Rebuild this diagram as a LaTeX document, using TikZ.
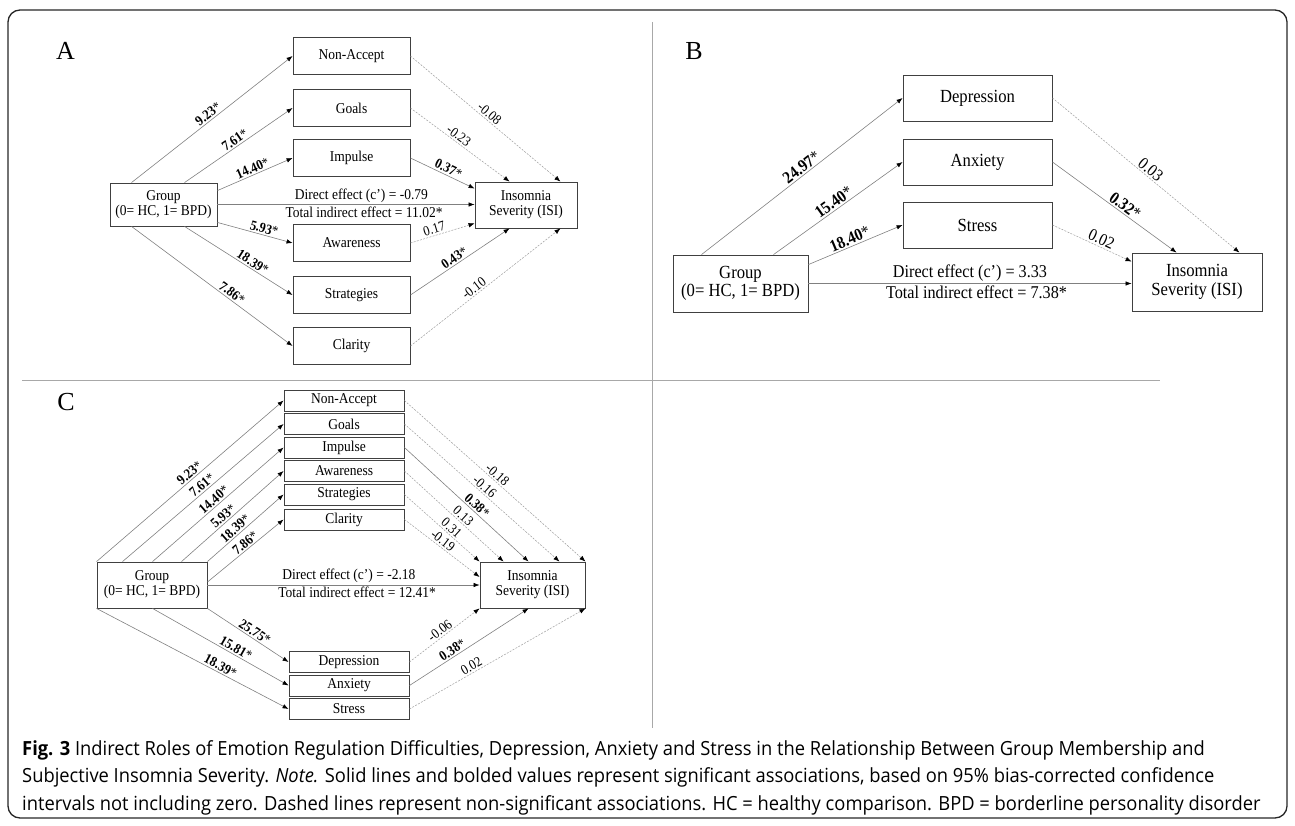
\documentclass[tikz,border=0pt]{standalone}
\usepackage{fontspec}
\setmainfont{Liberation Serif}
\newfontfamily\figserif[FakeStretch=0.9]{Liberation Serif}
\newfontfamily\capsans[FakeStretch=0.94]{Open Sans}
\usetikzlibrary{arrows.meta,positioning,calc}

\definecolor{framegray}{HTML}{262626}
\definecolor{rulegray}{HTML}{A8A8A8}
\definecolor{boxgray}{HTML}{404040}
\definecolor{pathgray}{HTML}{808080}
\definecolor{dashgray}{HTML}{9C9C9C}

\tikzset{
  vbox/.style={draw=boxgray, fill=white, line width=0.9pt, inner sep=0pt, align=center,
    font=\figserif\fontsize{#1}{#1}\selectfont},
  vbox/.default=15,
  sig/.style={draw=pathgray, line width=0.6pt, -{Latex[length=6pt,width=4.5pt,color=black]}},
  nsig/.style={sig, draw=dashgray, line width=0.5pt, dash pattern=on 2pt off 1.3pt},
  est/.style={sloped, above, inner sep=1.5pt, font=\figserif\fontsize{#1}{#1}\selectfont},
  est/.default=14,
  effect/.style={inner sep=2pt, font=\figserif\fontsize{#1}{#1}\selectfont},
  effect/.default=15,
  panel/.style={font=\fontsize{26}{26}\selectfont}
}

\begin{document}
\begin{tikzpicture}[x=1pt, y=-1pt,
  medA/.style={vbox, minimum width=117pt, minimum height=37pt},
  medB/.style={vbox=18.5, minimum width=149pt, minimum height=46pt},
  medC/.style={vbox, minimum width=120pt, minimum height=21pt}]
\useasboundingbox (0,0) rectangle (1295,826);
\draw[framegray, line width=1.3pt, rounded corners=12pt] (8,10) rectangle (1287,818);
\draw[rulegray, line width=0.6pt] (652,22) -- (652,728);
\draw[rulegray, line width=0.6pt] (22,380) -- (1160,380);

% panel A
\node[panel] (labA) at (65.5,50.5) {A};
\node[vbox, minimum width=107pt, minimum height=43pt] (grpA) at (163.5,204.5) {Group\\(0= HC, 1= BPD)};
\node[vbox, minimum width=102pt, minimum height=46pt] (isiA) at (526,205) {Insomnia\\Severity (ISI)};
\node[medA] (nacA) at (351.5,56) {Non-Accept};
\node[medA, below of=nacA, node distance=52pt] (golA) {Goals};
\node[medA, below of=golA, node distance=50pt] (impA) {Impulse};
\node[medA, below of=impA, node distance=85pt] (awaA) {Awareness};
\node[medA, below of=awaA, node distance=52pt] (strA) {Strategies};
\node[medA, below of=strA, node distance=51pt] (claA) {Clarity};

\draw[sig] ($(grpA.north west)+(22,0)$) -- (nacA.west) node[est, pos=.5] {\textbf{9.23}*};
\draw[sig] ($(grpA.north west)+(75,0)$) -- (golA.west) node[est, pos=.5] {\textbf{7.61}*};
\draw[sig] ($(grpA.north east)+(0,8)$) -- (impA.west) node[est, pos=.5] {\textbf{14.40}*};
\draw[sig] (grpA.east) -- (grpA.east -| isiA.west)
  node[effect, above, pos=.56] {Direct effect (c’) = -0.79}
  node[effect, below, pos=.57] {Total indirect effect = 11.02*};
\draw[sig] ($(grpA.south east)+(0,-4)$) -- (awaA.west) node[est, pos=.6] {\textbf{5.93}*};
\draw[sig] ($(grpA.south west)+(75,0)$) -- (strA.west) node[est, pos=.6] {\textbf{18.39}*};
\draw[sig] ($(grpA.south west)+(22,0)$) -- (claA.west) node[est, pos=.6] {\textbf{7.86}*};
\draw[nsig] (nacA.east) -- ($(isiA.north east)+(-17,0)$) node[est, pos=.5] {-0.08};
\draw[nsig] (golA.east) -- ($(isiA.north west)+(35,0)$) node[est, pos=.45] {-0.23};
\draw[sig] (impA.east) -- ($(isiA.north west)+(0,7)$) node[est, pos=.55] {\textbf{0.37}*};
\draw[nsig] (awaA.east) -- ($(isiA.south west)+(0,-5)$) node[est, pos=.4] {0.17};
\draw[sig] (strA.east) -- ($(isiA.south west)+(35,0)$) node[est, pos=.48] {\textbf{0.43}*};
\draw[nsig] (claA.east) -- ($(isiA.south east)+(-17,0)$) node[est, pos=.45] {-0.10};

% panel B
\node[panel] (labB) at (694,51) {B};
\node[vbox=18.5, minimum width=135pt, minimum height=57pt] (grpB) at (740.5,283.5) {Group\\(0= HC, 1= BPD)};
\node[vbox=18.5, minimum width=130pt, minimum height=58pt] (isiB) at (1197,282) {Insomnia\\Severity (ISI)};
\node[medB] (depB) at (977.5,98) {Depression};
\node[medB, below of=depB, node distance=64pt] (anxB) {Anxiety};
\node[medB, below of=anxB, node distance=63pt] (strsB) {Stress};

\draw[sig] ($(grpB.north west)+(29,0)$) -- (depB.west) node[est=17, pos=.52] {\textbf{24.97}*};
\draw[sig] ($(grpB.north west)+(101,0)$) -- (anxB.west) node[est=17, pos=.5] {\textbf{15.40}*};
\draw[sig] ($(grpB.north east)+(0,10)$) -- (strsB.west) node[est=17, pos=.47] {\textbf{18.40}*};
\draw[sig] (grpB.east) -- (grpB.east -| isiB.west)
  node[effect=18, above, pos=.5] {Direct effect (c’) = 3.33}
  node[effect=18, below, pos=.52] {Total indirect effect = 7.38*};
\draw[nsig] (depB.east) -- ($(isiB.north east)+(-23,0)$) node[est=17, pos=.5] {0.03};
\draw[sig] (anxB.east) -- ($(isiB.north west)+(45,0)$) node[est=17, pos=.55] {\textbf{0.32}*};
\draw[nsig] (strsB.east) -- ($(isiB.north west)+(0,9)$) node[est=17, pos=.58] {0.02};

% panel C
\node[panel] (labC) at (66,402) {C};
\node[vbox, minimum width=110pt, minimum height=46pt] (grpC) at (152,585) {Group\\(0= HC, 1= BPD)};
\node[vbox, minimum width=105pt, minimum height=46pt] (isiC) at (532.5,585) {Insomnia\\Severity (ISI)};
\node[medC] (nacC) at (344,400.5) {Non-Accept};
\node[medC, below of=nacC, node distance=23.5pt] (golC) {Goals};
\node[medC, below of=golC, node distance=23.5pt] (impC) {Impulse};
\node[medC, below of=impC, node distance=23.5pt] (awaC) {Awareness};
\node[medC, below of=awaC, node distance=23.5pt] (strC) {Strategies};
\node[medC, below of=strC, node distance=25pt] (claC) {Clarity};
\node[medC] (depC) at (349,662) {Depression};
\node[medC, below of=depC, node distance=23.5pt] (anxC) {Anxiety};
\node[medC, below of=anxC, node distance=23.5pt] (strsC) {Stress};

\draw[sig] (grpC.north west) -- (nacC.west) node[est, pos=.52] {\textbf{9.23}*};
\draw[sig] ($(grpC.north west)+(26,0)$) -- (golC.west) node[est, pos=.52] {\textbf{7.61}*};
\draw[sig] ($(grpC.north west)+(56,0)$) -- (impC.west) node[est, pos=.5] {\textbf{14.40}*};
\draw[sig] ($(grpC.north west)+(85,0)$) -- (awaC.west) node[est, pos=.45] {\textbf{5.93}*};
\draw[sig] (grpC.north east) -- (strC.west) node[est, pos=.42] {\textbf{18.39}*};
\draw[sig] ($(grpC.east)+(0,-3)$) -- (claC.west) node[est, pos=.55] {\textbf{7.86}*};
\draw[sig] (grpC.east) -- (grpC.east -| isiC.west)
  node[effect, above, pos=.52] {Direct effect (c’) = -2.18}
  node[effect, below, pos=.55] {Total indirect effect = 12.41*};
\draw[nsig] (nacC.east) -- (isiC.north east) node[est, pos=.49] {-0.18};
\draw[nsig] (golC.east) -- ($(isiC.north east)+(-26,0)$) node[est, pos=.49] {-0.16};
\draw[sig] (impC.east) -- ($(isiC.north west)+(49,0)$) node[est, pos=.55] {\textbf{0.38}*};
\draw[nsig] (awaC.east) -- ($(isiC.north west)+(24,0)$) node[est, pos=.55] {0.13};
\draw[nsig] (strC.east) -- (isiC.north west) node[est, pos=.57] {0.31};
\draw[nsig] (claC.east) -- ($(isiC.west)+(0,-8)$) node[est, pos=.46] {-0.19};
\draw[sig] (grpC.south east) -- (depC.west) node[est, pos=.54] {\textbf{25.75}*};
\draw[sig] ($(grpC.south west)+(56,0)$) -- (anxC.west) node[est, pos=.59] {\textbf{15.81}*};
\draw[sig] (grpC.south west) -- (strsC.west) node[est, pos=.63] {\textbf{18.39}*};
\draw[nsig] (depC.east) -- (isiC.south west) node[est, pos=.49] {-0.06};
\draw[sig] (anxC.east) -- ($(isiC.south west)+(49,0)$) node[est, pos=.39] {\textbf{0.38}*};
\draw[nsig] (strsC.east) -- (isiC.south east) node[est, pos=.37] {0.02};

% caption
\node[anchor=north west, align=left, inner sep=0pt, font=\capsans\fontsize{19.5}{27.5}\selectfont] (cap) at (22,740)
  {\textbf{Fig. 3} Indirect Roles of Emotion Regulation Difficulties, Depression, Anxiety and Stress in the Relationship Between Group Membership and\\
   Subjective Insomnia Severity. \textit{Note.} Solid lines and bolded values represent significant associations, based on 95\% bias-corrected confidence\\
   intervals not including zero. Dashed lines represent non-significant associations. HC = healthy comparison. BPD = borderline personality disorder};
\end{tikzpicture}
\end{document}
